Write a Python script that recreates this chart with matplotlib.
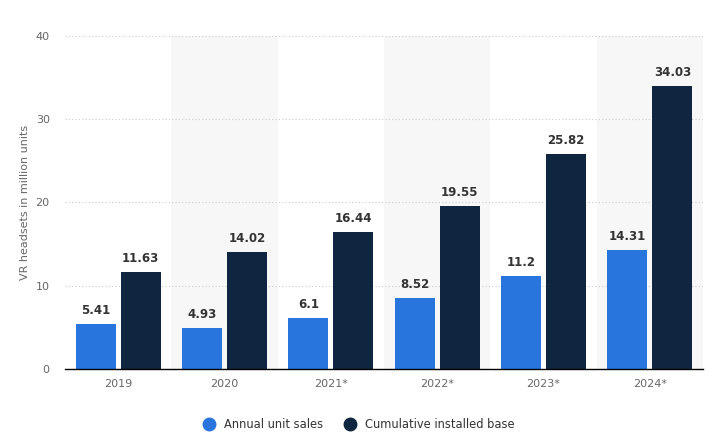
import matplotlib
matplotlib.use("Agg")
import matplotlib.pyplot as plt
import numpy as np

categories = ["2019", "2020", "2021*", "2022*", "2023*", "2024*"]
annual_sales = [5.41, 4.93, 6.1, 8.52, 11.2, 14.31]
cumulative_base = [11.63, 14.02, 16.44, 19.55, 25.82, 34.03]
series_names = ["Annual unit sales", "Cumulative installed base"]
yticks = [0, 10, 20, 30, 40]

blue = "#2876dd"
dark = "#0f2640"

fig = plt.figure(figsize=(7.08, 4.46), dpi=100)
ax = fig.add_axes([65/708, 1-369/446, (703-65)/708, (369-36)/446])

x = np.arange(len(categories))
w = 0.376
off = 0.212

for i in range(len(categories)):
    if i % 2 == 1:
        ax.axvspan(i-0.5, i+0.5, color="#f7f7f7", zorder=0, lw=0)

b1 = ax.bar(x-off, annual_sales, w, color=blue, zorder=3, label=series_names[0])
b2 = ax.bar(x+off, cumulative_base, w, color=dark, zorder=3, label=series_names[1])

for bars, vals in ((b1, annual_sales), (b2, cumulative_base)):
    for r, v in zip(bars, vals):
        ax.annotate(f"{v:g}", (r.get_x()+r.get_width()/2, v), xytext=(0, 5),
                    textcoords="offset points", ha="center", va="bottom",
                    fontsize=8.5, fontweight="bold", color="#333333")

ax.set_xlim(-0.5, len(categories)-0.5)
ax.set_ylim(0, 40)
ax.set_yticks(yticks)
ax.set_xticks(x)
ax.set_xticklabels(categories)
ax.grid(axis="y", linestyle=(0, (1, 2)), color="#cccccc", lw=0.8, zorder=1)
ax.set_axisbelow(True)
for s in ["top", "right", "left"]:
    ax.spines[s].set_visible(False)
ax.spines["bottom"].set_color("#000000")
ax.spines["bottom"].set_linewidth(1.0)
ax.spines["bottom"].set_zorder(4)
ax.tick_params(axis="both", length=0, labelsize=8, colors="#666666")
ax.tick_params(axis="y", pad=11)
ax.tick_params(axis="x", pad=7)
ax.set_ylabel("VR headsets in million units", fontsize=8, color="#666666", labelpad=4)

leg = fig.legend(handles=[
    plt.Line2D([], [], marker="o", ls="", color=blue, markersize=9),
    plt.Line2D([], [], marker="o", ls="", color=dark, markersize=9)],
    labels=series_names, loc="center", bbox_to_anchor=(0.503, 1-425/446), ncol=2,
    frameon=False, fontsize=8.3, handletextpad=0.3, columnspacing=1.4)
for t in leg.get_texts():
    t.set_color("#333333")

fig.savefig("out.png", dpi=100)
